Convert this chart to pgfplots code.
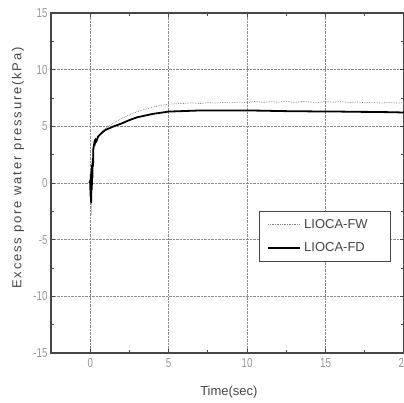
\documentclass[border=0pt]{standalone}
\usepackage{fontspec}
\usepackage{pgfplots}
\pgfplotsset{compat=1.18}
\setmainfont{Liberation Sans}
\newfontfamily\tickfont[FakeStretch=0.75]{Liberation Sans}
\newfontfamily\ylabfont[LetterSpace=14]{Liberation Sans}
\definecolor{axgray}{RGB}{70,70,70}
\definecolor{tickgray}{RGB}{150,150,150}
\definecolor{gridgray}{RGB}{140,140,140}
\definecolor{fwgray}{RGB}{130,130,130}
\begin{document}
\begin{tikzpicture}
\useasboundingbox (-51pt,-50pt) rectangle (353pt,353pt);
\clip (-51pt,-50pt) rectangle (353pt,353pt);
\begin{axis}[
  scale only axis, width=353pt, height=340pt,
  at={(0,0)}, anchor=south west,
  xmin=-2.5, xmax=20, ymin=-15, ymax=15,
  xtick={0,5,10,15,20}, ytick={-15,-10,-5,0,5,10,15},
  minor x tick num=1, minor y tick num=1,
  grid=major,
  major grid style={densely dotted, gridgray, line width=0.7pt},
  tick align=inside,
  major tick length=4pt, minor tick length=3pt,
  every tick/.style={axgray, line width=0.8pt},
  axis line style={axgray, line width=1.4pt},
  /pgf/number format/assume math mode=true,
  ticklabel style={font=\fontsize{13}{13}\tickfont, text=tickgray},
  xticklabel style={yshift=-2pt},
  xlabel={Time(sec)}, ylabel={\ylabfont Excess pore water pressure(kPa)},
  label style={font=\fontsize{13}{13}\selectfont, text=axgray},
  xlabel style={at={(axis description cs:0.504,-0.115)}, anchor=center},
  ylabel style={at={(axis description cs:-0.0935,0.544)}, anchor=center},
  legend style={at={(axis description cs:0.589,0.418)}, anchor=north west,
    draw=axgray, line width=0.9pt, font=\fontsize{13}{13}\selectfont,
    inner xsep=8pt, inner ysep=6pt, row sep=9pt, text=axgray,
    nodes={inner xsep=3pt}},
  legend cell align=left,
  legend image code/.code={\draw[#1] (0pt,0pt) -- (32pt,0pt);},
]
\addplot[fwgray, densely dotted, line width=0.7pt] coordinates {
(-0.05,0) (0,0.3) (0.02,-1.5) (0.04,1.0) (0.06,-2.8) (0.08,0.8) (0.1,-1.0)
(0.12,1.5) (0.15,2.5) (0.2,3.2) (0.3,3.6) (0.4,3.9) (0.5,4.1) (0.8,4.6)
(1.0,4.85) (1.5,5.3) (2.0,5.7) (2.5,6.0) (3.0,6.3) (3.5,6.5) (4.0,6.7)
(4.5,6.85) (5,6.95) (5.5,7.0) (6,7.02) (6.5,7.08) (7,7.0) (7.5,7.1) (8,7.05)
(8.5,7.12) (9,7.06) (9.5,7.15) (10,7.08) (10.5,7.2) (11,7.1) (11.5,7.18)
(12,7.12) (12.5,7.22) (13,7.1) (13.5,7.2) (14,7.15) (14.5,7.1) (15,7.2)
(15.5,7.12) (16,7.18) (16.5,7.1) (17,7.15) (17.5,7.08) (18,7.12) (18.5,7.05)
(19,7.1) (19.5,7.05) (20,7.08)};
\addlegendentry{LIOCA-FW\rule{12pt}{0pt}}
\addplot[black, line width=1.8pt] coordinates {
(-0.05,0) (0,0.2) (0.02,-1.2) (0.04,0.8) (0.06,-1.8) (0.08,1.2) (0.1,-0.6)
(0.12,1.6) (0.14,0.4) (0.16,2.2) (0.18,1.5) (0.2,3.0) (0.23,3.3) (0.27,3.6)
(0.3,3.5) (0.35,3.8) (0.4,3.7) (0.5,4.1) (0.8,4.5) (1.0,4.7) (1.5,5.0)
(2.0,5.25) (2.5,5.55) (3.0,5.8) (3.5,5.95) (4.0,6.1) (4.5,6.2) (5.0,6.3)
(6,6.35) (7,6.4) (8,6.4) (9,6.4) (10,6.4) (11,6.38) (12,6.35) (13,6.33)
(14,6.32) (15,6.3) (16,6.3) (17,6.28) (18,6.27) (19,6.25) (20,6.22)};
\addlegendentry{LIOCA-FD\rule{12pt}{0pt}}
\end{axis}
\end{tikzpicture}
\end{document}
